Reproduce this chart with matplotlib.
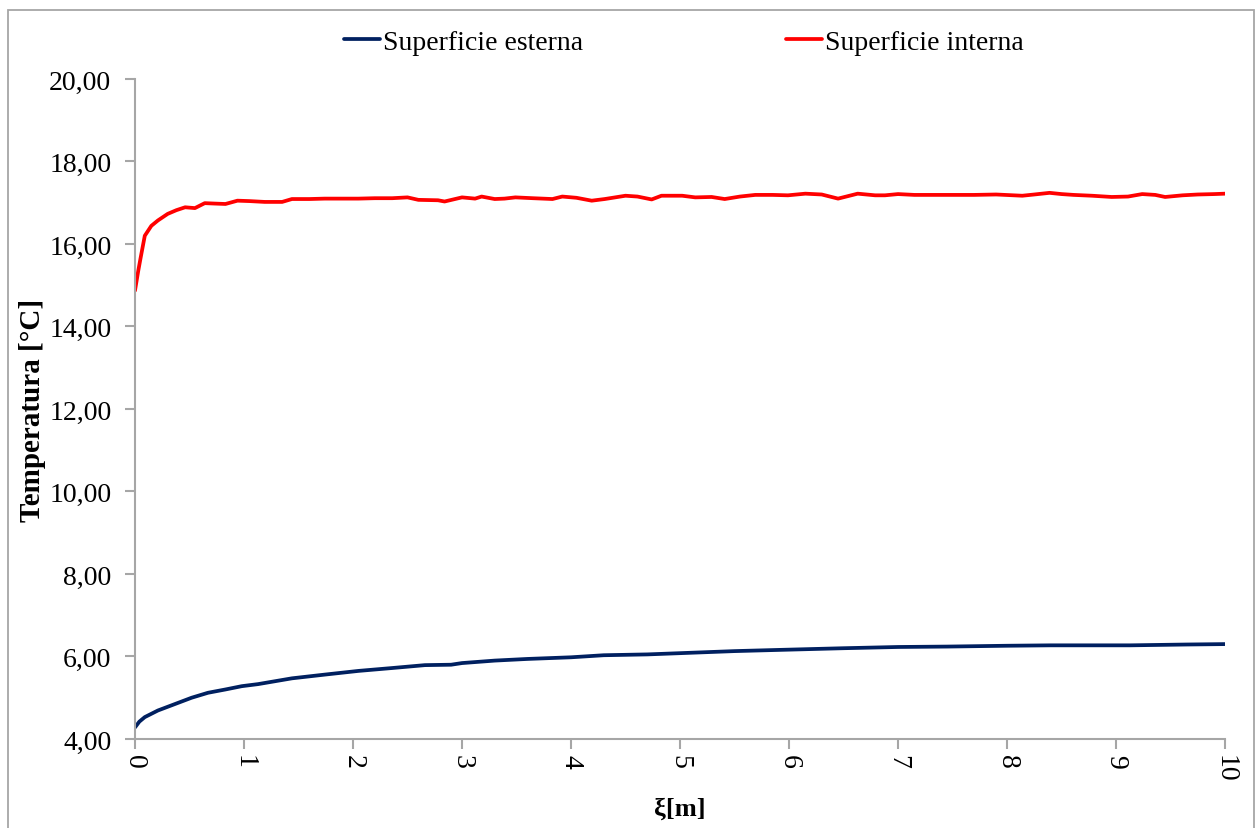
"""Temperature profile along xi: external vs internal surface."""

import matplotlib
matplotlib.use("Agg")
import matplotlib.pyplot as plt
from matplotlib.patches import Rectangle
from matplotlib.ticker import FuncFormatter

plt.rcParams["font.family"] = ["Liberation Serif", "DejaVu Serif"]

# values
esterna_x = [0, 0.04, 0.09, 0.21, 0.37, 0.52, 0.67, 0.83, 0.98, 1.13, 1.44,
             1.74, 2.05, 2.36, 2.66, 2.9, 3.0, 3.3, 3.6, 4.0, 4.3, 4.7, 5.0,
             5.5, 5.92, 6.5, 7.0, 7.45, 8.0, 8.4, 9.13, 9.65, 10.0]
esterna_t = [4.28, 4.42, 4.53, 4.69, 4.85, 5.00, 5.12, 5.20, 5.28, 5.33, 5.47,
             5.56, 5.65, 5.72, 5.79, 5.80, 5.84, 5.90, 5.94, 5.98, 6.03, 6.05,
             6.08, 6.13, 6.16, 6.20, 6.23, 6.24, 6.26, 6.27, 6.27, 6.29, 6.30]

interna_x = [0, 0.03, 0.05, 0.09, 0.15, 0.21, 0.30, 0.38, 0.46, 0.55, 0.64,
             0.73, 0.83, 0.94, 1.05, 1.19, 1.35, 1.44, 1.6, 1.74, 1.9, 2.05,
             2.2, 2.36, 2.5, 2.6, 2.78, 2.84, 3.0, 3.12, 3.18, 3.30, 3.39,
             3.49, 3.65, 3.83, 3.92, 4.05, 4.19, 4.31, 4.50, 4.61, 4.74, 4.83,
             5.02, 5.14, 5.29, 5.41, 5.55, 5.69, 5.85, 5.99, 6.15, 6.30, 6.45,
             6.63, 6.79, 6.88, 7.00, 7.15, 7.3, 7.5, 7.7, 7.9, 8.14, 8.25,
             8.39, 8.5, 8.61, 8.78, 8.96, 9.11, 9.24, 9.36, 9.45, 9.61, 9.75,
             9.9, 10.0]
interna_t = [14.87, 15.35, 15.64, 16.20, 16.44, 16.57, 16.73, 16.82, 16.89,
             16.87, 16.99, 16.98, 16.97, 17.05, 17.04, 17.02, 17.02, 17.09,
             17.09, 17.10, 17.10, 17.10, 17.11, 17.11, 17.13, 17.07, 17.06,
             17.03, 17.13, 17.10, 17.15, 17.09, 17.10, 17.13, 17.11, 17.09,
             17.15, 17.12, 17.05, 17.09, 17.17, 17.15, 17.08, 17.17, 17.17,
             17.13, 17.14, 17.09, 17.15, 17.19, 17.19, 17.18, 17.22, 17.20,
             17.10, 17.22, 17.18, 17.18, 17.21, 17.19, 17.19, 17.19, 17.19,
             17.20, 17.17, 17.20, 17.24, 17.21, 17.19, 17.17, 17.14, 17.15,
             17.21, 17.19, 17.14, 17.18, 17.20, 17.21, 17.22]

x_ticks = list(range(0, 11))
y_ticks = [4, 6, 8, 10, 12, 14, 16, 18, 20]

BLUE = "#002060"
RED = "#ff0000"
GRAY = "#a6a6a6"

fig = plt.figure(figsize=(12.58, 8.29), dpi=100)
ax = fig.add_axes([0.1073, 0.1074, 0.8665, 0.7961])

# outer chart frame (bottom edge falls off the picture)
fig.patches.append(Rectangle((8 / 1258, -0.02), 1246 / 1258, 1.02 - 11 / 829,
                             transform=fig.transFigure, fill=False,
                             edgecolor=GRAY, linewidth=1.3))

ax.plot(esterna_x, esterna_t, color=BLUE, linewidth=2.7,
        label="Superficie esterna", solid_capstyle="round")
ax.plot(interna_x, interna_t, color=RED, linewidth=2.7,
        label="Superficie interna", solid_capstyle="round")

ax.set_xlim(0, 10)
ax.set_ylim(4, 20)
ax.set_xticks(x_ticks)
ax.set_yticks(y_ticks)
ax.yaxis.set_major_formatter(FuncFormatter(lambda v, p: f"{v:.2f}".replace(".", ",")))

for side in ("top", "right"):
    ax.spines[side].set_visible(False)
for side in ("left", "bottom"):
    ax.spines[side].set_color(GRAY)
    ax.spines[side].set_linewidth(1.5)

ax.tick_params(axis="both", colors=GRAY, width=1.5, length=7, labelsize=20,
               labelcolor="black")
ax.tick_params(axis="x", labelrotation=-90, pad=4)
ax.tick_params(axis="y", pad=10)

ax.set_ylabel("Temperatura [°C]", fontsize=21, fontweight="bold", labelpad=2)
ax.set_xlabel("ξ[m]", fontsize=19, fontweight="bold", labelpad=11)

leg = fig.legend(loc="center", bbox_to_anchor=(0.5435, 0.948), ncol=2,
                 frameon=False, fontsize=20, handlelength=1.3,
                 handletextpad=0.1, columnspacing=7.3)

fig.savefig("out.png", dpi=100)
